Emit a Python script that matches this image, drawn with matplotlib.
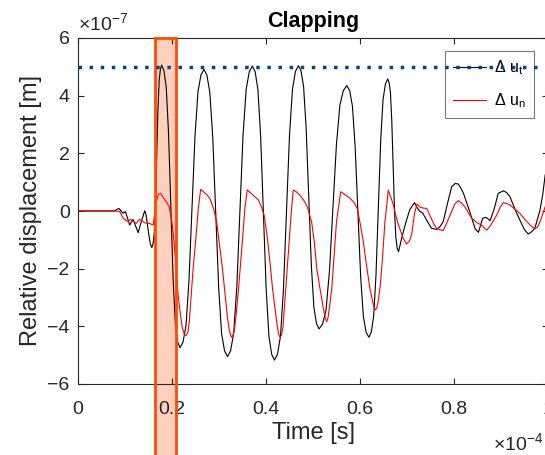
import matplotlib
matplotlib.use("Agg")
import matplotlib.pyplot as plt
from matplotlib.patches import Rectangle
import numpy as np

# time in units of 1e-4 s, displacement in units of 1e-7 m
t_tang = [0.0, 0.077, 0.087, 0.096, 0.101, 0.110, 0.117, 0.128, 0.135, 0.142,
          0.145, 0.150, 0.154, 0.157,
          0.1596, 0.1623, 0.1649, 0.1675, 0.1701, 0.1728, 0.1754, 0.178,
          0.1829, 0.1878, 0.1926, 0.1975, 0.2024, 0.2073, 0.2121, 0.217,
          0.2234, 0.2298, 0.2361, 0.2425, 0.2489, 0.2553, 0.2616, 0.268,
          0.2743, 0.2805, 0.2868, 0.293, 0.2993, 0.3055, 0.3118, 0.318,
          0.3246, 0.3313, 0.3379, 0.3445, 0.3511, 0.3578, 0.3644, 0.371,
          0.3769, 0.3828, 0.3886, 0.3945, 0.4004, 0.4063, 0.4121, 0.418,
          0.4244, 0.4308, 0.4371, 0.4435, 0.4499, 0.4563, 0.4626, 0.469,
          0.4745, 0.480, 0.4855, 0.491, 0.4965, 0.502, 0.5075, 0.513,
          0.5204, 0.5278, 0.5351, 0.5425, 0.5499, 0.5573, 0.5646, 0.572,
          0.5779, 0.5838, 0.5896, 0.5955, 0.6014, 0.6073, 0.6131, 0.619,
          0.624, 0.629, 0.634, 0.639, 0.644, 0.649, 0.654, 0.659,
          0.6619, 0.6648, 0.6676, 0.6705, 0.6734, 0.6763, 0.6791, 0.682,
          0.690, 0.698, 0.706, 0.716, 0.722, 0.728, 0.733, 0.742, 0.752, 0.763,
          0.770, 0.777, 0.786, 0.795, 0.802, 0.809, 0.815, 0.820, 0.833, 0.845,
          0.852, 0.861, 0.868, 0.877, 0.886, 0.894, 0.905, 0.912, 0.919, 0.930,
          0.940, 0.950, 0.958, 0.965, 0.972, 0.978, 0.983, 0.989, 0.994, 1.0]
du_t = [0.0, 0.0, 0.09, -0.08, -0.02, -0.49, -0.29, -0.75, -0.35, 0.01,
        -0.15, -0.75, -1.15, -1.27,
        -1.14, -0.76, 0.25, 1.9, 3.54, 4.55, 4.93, 5.06,
        4.86, 4.28, 2.71, 0.16, -2.39, -3.96, -4.54, -4.74,
        -4.55, -3.97, -2.42, 0.085, 2.59, 4.14, 4.72, 4.91,
        4.71, 4.11, 2.52, -0.07, -2.66, -4.25, -4.85, -5.05,
        -4.85, -4.24, -2.63, -0.01, 2.61, 4.22, 4.83, 5.03,
        4.83, 4.21, 2.58, -0.07, -2.72, -4.35, -4.97, -5.17,
        -4.97, -4.35, -2.72, -0.065, 2.59, 4.22, 4.84, 5.04,
        4.86, 4.31, 2.85, 0.475, -1.90, -3.36, -3.91, -4.09,
        -3.92, -3.42, -2.06, 0.13, 2.32, 3.68, 4.18, 4.35,
        4.18, 3.65, 2.25, -0.015, -2.28, -3.68, -4.21, -4.38,
        -4.20, -3.66, -2.23, 0.1, 2.43, 3.86, 4.40, 4.58,
        4.46, 4.10, 3.14, 1.585, 0.03, -0.93, -1.29, -1.41,
        -0.85, -0.37, 0.05, 0.29, 0.1, -0.02, -0.06, -0.32, -0.60, -0.64,
        -0.55, -0.37, 0.25, 0.84, 0.95, 0.94, 0.78, 0.62, 0.0, -0.62,
        -0.74, -0.25, -0.22, -0.33, 0.1, 0.61, 0.70, 0.64, 0.5, 0.05,
        -0.31, -0.65, -0.80, -0.72, -0.6, -0.25, 0.03, 0.6, 1.25, 1.55]

t_norm = [0.0, 0.077, 0.089, 0.096, 0.106, 0.111, 0.124, 0.131, 0.142, 0.152, 0.160,
          0.163, 0.167, 0.171, 0.176, 0.182, 0.188, 0.194, 0.199, 0.203, 0.208, 0.213,
          0.218, 0.222, 0.226, 0.230, 0.234, 0.237, 0.240, 0.245, 0.251, 0.256, 0.261,
          0.268, 0.275, 0.281, 0.288, 0.295, 0.302, 0.308, 0.313, 0.318, 0.322, 0.325,
          0.327, 0.330, 0.333, 0.337, 0.341, 0.345, 0.350, 0.355, 0.360,
          0.367, 0.374, 0.384, 0.390, 0.396, 0.402, 0.409, 0.414, 0.419, 0.424, 0.427,
          0.430, 0.433, 0.436, 0.440, 0.445, 0.450, 0.454, 0.458,
          0.465, 0.472, 0.480, 0.487, 0.497, 0.503, 0.508, 0.515, 0.522, 0.526,
          0.529, 0.532, 0.535, 0.540, 0.545, 0.550, 0.555, 0.559,
          0.565, 0.572, 0.579, 0.587, 0.594, 0.600, 0.607, 0.614, 0.621, 0.627,
          0.630, 0.633, 0.636, 0.639, 0.643, 0.648, 0.653, 0.657, 0.660,
          0.665, 0.671, 0.676, 0.682, 0.692, 0.699, 0.705, 0.710, 0.716, 0.721,
          0.728, 0.735, 0.742, 0.750, 0.757, 0.763, 0.770, 0.777, 0.785, 0.795,
          0.802, 0.809, 0.816, 0.823, 0.830, 0.838, 0.848, 0.859, 0.865, 0.870,
          0.878, 0.885, 0.891, 0.898, 0.905, 0.912, 0.919, 0.930, 0.940, 0.950,
          0.962, 0.972, 0.978, 0.983, 0.990, 0.994, 1.0]
du_n = [0.0, 0.0, -0.02, -0.25, -0.37, -0.29, -0.43, -0.29, -0.41, -0.43, -0.49,
        -0.1, 0.35, 0.58, 0.61, 0.45, 0.32, 0.15, -0.3, -0.83, -1.8, -2.91,
        -3.6, -4.05, -4.27, -4.32, -4.2, -3.8, -3.1, -1.99, -0.9, 0.09, 0.75,
        0.65, 0.55, 0.42, 0.1, -0.37, -1.3, -2.1, -2.91, -3.7, -4.15, -4.32,
        -4.38, -4.3, -4.1, -3.5, -2.8, -1.99, -1.0, 0.09, 0.73,
        0.63, 0.53, 0.38, 0.15, -0.14, -0.8, -1.87, -2.7, -3.37, -4.0, -4.28,
        -4.38, -4.3, -4.05, -3.14, -2.0, -0.83, 0.0, 0.73,
        0.66, 0.55, 0.38, 0.18, -0.37, -1.1, -1.99, -2.7, -3.37, -3.7,
        -3.84, -3.7, -3.35, -2.68, -1.5, -0.37, 0.2, 0.67,
        0.6, 0.52, 0.44, 0.3, 0.09, -0.4, -1.06, -1.9, -2.68, -3.15,
        -3.35, -3.43, -3.35, -3.1, -2.6, -1.6, -0.37, 0.2, 0.72,
        0.5, 0.21, -0.15, -0.49, -0.95, -1.14, -1.05, -0.8, -0.1, 0.24,
        0.13, 0.1, 0.09, -0.2, -0.45, -0.6, -0.65, -0.68, -0.4, -0.02,
        0.25, 0.36, 0.28, 0.15, -0.05, -0.25, -0.4, -0.49, -0.6, -0.66,
        -0.5, -0.3, -0.14, 0.12, 0.29, 0.26, 0.21, 0.06, -0.08, -0.28,
        -0.49, -0.62, -0.55, -0.37, -0.05, 0.15, 0.35]

limit_value = 5.0
window = (0.164, 0.2085)

plt.rcParams["font.family"] = ["Liberation Sans", "DejaVu Sans"]
plt.rcParams["mathtext.default"] = "regular"
dark = "#262626"

fig = plt.figure(figsize=(5.45, 4.55), dpi=100)
ax = fig.add_axes([78 / 545, 1 - 384 / 455, 470 / 545, 346 / 455])

# highlighted window (runs past the axes bottom)
ax.add_patch(Rectangle((window[0], -12), window[1] - window[0], 18,
                       facecolor="#FF6428", alpha=0.3, edgecolor="none",
                       clip_on=False, zorder=1))
ax.add_patch(Rectangle((window[0], -12), window[1] - window[0], 18,
                       facecolor="none", edgecolor="#FF4D00", linewidth=2.0,
                       clip_on=False, zorder=4))

ax.plot(t_tang, du_t, color="black", linewidth=0.8, label=r"$\Delta$ u$_t$", zorder=3)
ax.plot(t_norm, du_n, color="red", linewidth=0.8, label=r"$\Delta$ u$_n$", zorder=3)
ax.axhline(limit_value, color="#07437E", linewidth=2.5,
           linestyle=(0, (1, 2.2)), dash_capstyle="butt", zorder=6)

ax.set_xlim(0, 1)
ax.set_ylim(-6, 6)
ax.set_xticks(np.arange(0, 1.01, 0.2))
ax.set_xticklabels(["0", "0.2", "0.4", "0.6", "0.8", "1"])
ax.set_yticks(np.arange(-6, 6.1, 2))
ax.tick_params(direction="in", length=4, width=0.8, colors=dark,
               labelsize=14, top=True, right=True)
ax.tick_params(axis="x", pad=12)
ax.tick_params(axis="y", pad=6)
for sp in ax.spines.values():
    sp.set_color(dark)
    sp.set_linewidth(0.8)

ax.set_xlabel("Time [s]", fontsize=17, color=dark, labelpad=3)
ax.set_ylabel("Relative displacement [m]", fontsize=17, color=dark, labelpad=4)
ax.set_title("Clapping", fontsize=15.5, fontweight="bold", pad=8)

ax.text(0.0, 1.012, r"$\times$10$^{-7}$", transform=ax.transAxes,
        fontsize=14, color=dark, ha="left", va="bottom")
ax.text(0.883, -0.17, r"$\times$10$^{-4}$", transform=ax.transAxes,
        fontsize=14, color=dark, ha="left", va="center", clip_on=False)

leg = ax.legend(loc="upper right", bbox_to_anchor=(0.970, 0.9633),
                borderaxespad=0, fontsize=11.5, fancybox=False,
                edgecolor="#7a7a7a", framealpha=1, handlelength=2.1,
                labelspacing=0.9, borderpad=0.5, handletextpad=0.5)
leg.get_frame().set_linewidth(0.8)
leg.set_zorder(5)

fig.savefig("out.png", dpi=100)
